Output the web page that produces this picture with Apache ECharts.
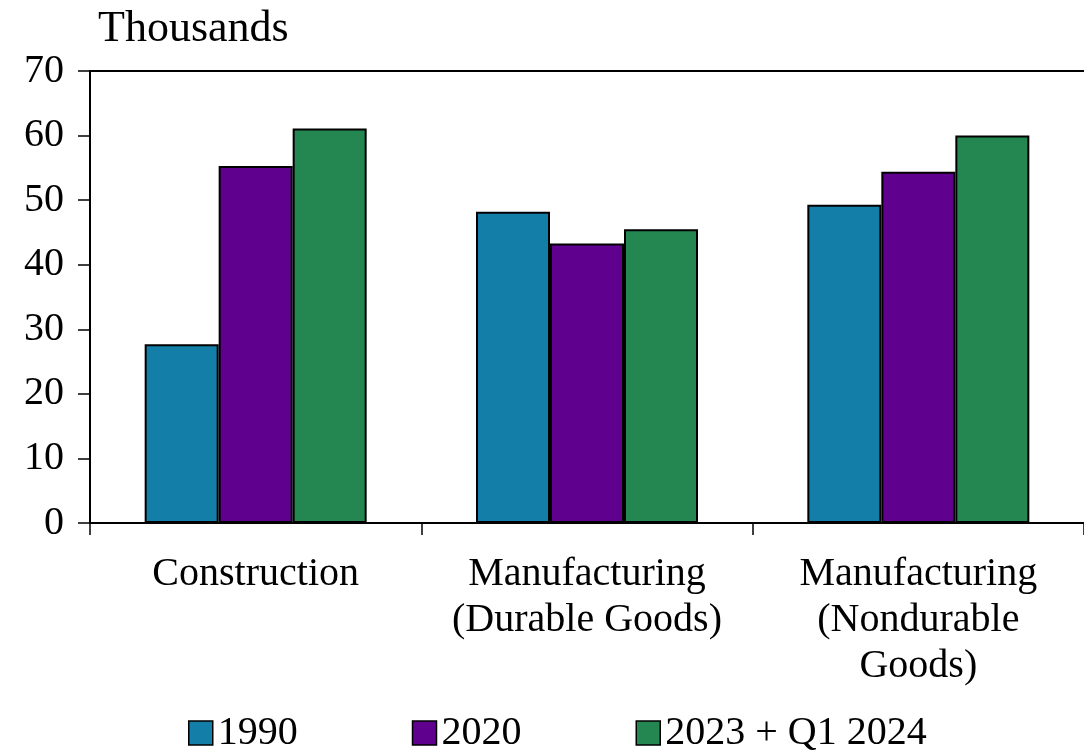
<!DOCTYPE html>
<html><head><meta charset="utf-8">
<script src="https://cdn.jsdelivr.net/npm/echarts@6/dist/echarts.min.js"></script>
<style>html,body{margin:0;padding:0;background:#fff}#c{width:1084px;height:756px}</style>
</head><body><div id="c"></div>
<script>
const categories = ['Construction', 'Manufacturing\n(Durable Goods)', 'Manufacturing\n(Nondurable\nGoods)'];
const seriesNames = ['1990', '2020', '2023 + Q1 2024'];
const v1990 = [27.7, 48.2, 49.3];
const v2020 = [55.3, 43.3, 54.4];
const v2023 = [61.1, 45.5, 60.0];
const colors = ['#137fa8', '#5f008e', '#248752'];
const yTicks = [0, 10, 20, 30, 40, 50, 60, 70];

const FONT = 'Liberation Serif';
const chart = echarts.init(document.getElementById('c'));
const data = [v1990, v2020, v2023];
chart.setOption({
  animation: false,
  textStyle: { fontFamily: FONT, color: '#000' },
  title: { text: 'Thousands', left: 93, top: 2, textStyle: { fontFamily: FONT, fontSize: 44, fontWeight: 'normal', color: '#000' } },
  legend: {
    bottom: -2, left: 183, itemWidth: 24, itemHeight: 24, itemGap: 114,
    icon: 'rect',
    textStyle: { fontFamily: FONT, fontSize: 40, color: '#000' },
    itemStyle: { borderColor: '#000', borderWidth: 1.5 },
    data: seriesNames
  },
  grid: { left: 90, top: 71, width: 999, height: 452, containLabel: false },
  xAxis: [{
    type: 'category', data: categories,
    axisLine: { lineStyle: { color: '#000', width: 2 } },
    axisTick: { show: true, length: 12, lineStyle: { color: '#000', width: 1.5 } },
    axisLabel: { fontFamily: FONT, fontSize: 40, color: '#000', margin: 28, lineHeight: 46, interval: 0 }
  }, {
    type: 'category', data: categories, position: 'top',
    axisLine: { show: true, lineStyle: { color: '#000', width: 2 } },
    axisTick: { show: false }, axisLabel: { show: false }
  }],
  yAxis: {
    type: 'value', min: 0, max: 70, interval: 10,
    axisLine: { show: true, lineStyle: { color: '#000', width: 2 } },
    axisTick: { show: true, inside: false, length: 12, lineStyle: { color: '#000', width: 1.5 } },
    splitLine: { show: false },
    axisLabel: { fontFamily: FONT, fontSize: 40, color: '#000', margin: 26,
      formatter: v => yTicks.includes(v) ? String(v) : '' }
  },
  series: seriesNames.map((n, i) => ({
    name: n, type: 'bar', data: data[i], barGap: '0%', barCategoryGap: '33%',
    itemStyle: { color: colors[i], borderColor: '#000', borderWidth: 2 }
  }))
});
</script></body></html>
